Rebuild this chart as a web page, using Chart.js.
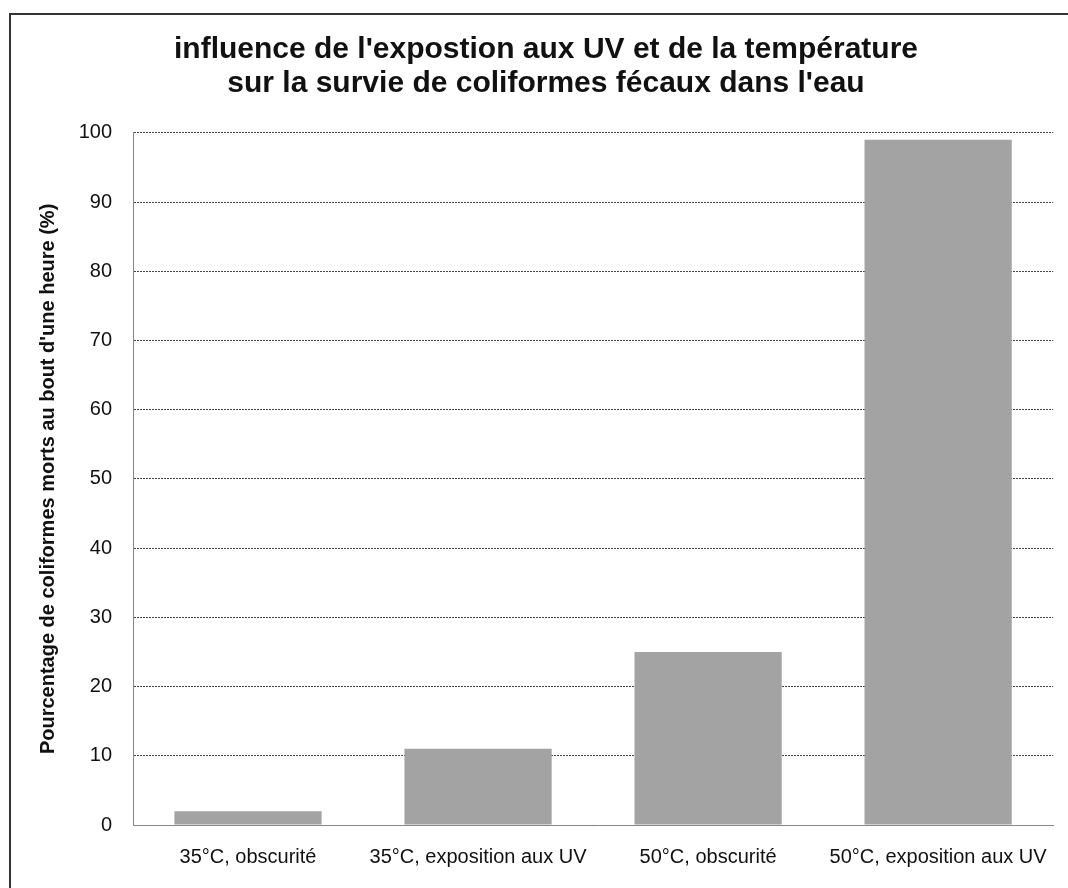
<!DOCTYPE html>
<html>
<head>
<meta charset="utf-8">
<script src="https://cdn.jsdelivr.net/npm/chart.js@4/dist/chart.umd.min.js"></script>
<style>
  html, body { margin: 0; padding: 0; background: #fff; }
  #wrap { width: 1068px; height: 888px; }
</style>
</head>
<body>
<div id="wrap"><canvas id="chart" width="1068" height="888"></canvas></div>
<script>
// données
var categories = ['35°C, obscurité', '35°C, exposition aux UV', '50°C, obscurité', '50°C, exposition aux UV'];
var mortalite = [2, 11, 25, 99];
var titleLines = ["influence de l'expostion aux UV et de la température", "sur la survie de coliformes fécaux dans l'eau"];
var yTitle = "Pourcentage de coliformes morts au bout d'une heure (%)";

// cadre extérieur (bord gauche et haut) + fond blanc
var cadre = {
    id: 'cadre',
    beforeDraw: function (chart) {
        var c = chart.ctx;
        c.save();
        c.fillStyle = '#fff';
        c.fillRect(0, 0, chart.width, chart.height);
        c.strokeStyle = '#333';
        c.lineWidth = 2;
        c.beginPath();
        c.moveTo(10, chart.height);
        c.lineTo(10, 14);
        c.lineTo(chart.width, 14);
        c.stroke();
        c.restore();
    }
};

var ctx = document.getElementById('chart').getContext('2d');
new Chart(ctx, {
    type: 'bar',
    data: {
        labels: categories,
        datasets: [{
            data: mortalite,
            backgroundColor: '#a3a3a3',
            borderWidth: 0,
            barPercentage: 0.64,
            categoryPercentage: 1
        }]
    },
    plugins: [cadre],
    options: {
        responsive: false,
        animation: false,
        layout: { padding: { left: 35, right: 11, top: 0, bottom: 0 } },
        plugins: {
            legend: { display: false },
            tooltip: { enabled: false },
            title: {
                display: true,
                text: titleLines,
                color: '#111',
                font: { family: 'Liberation Sans, Arial', size: 30, weight: 'bold', lineHeight: 1.13 },
                padding: { top: 33, bottom: 32 }
            }
        },
        scales: {
            x: {
                afterFit: function (s) { s.height = 63; },
                grid: { display: false, drawTicks: false },
                border: { display: true, color: '#888', dash: [2, 1] },
                ticks: {
                    color: '#111',
                    padding: 20,
                    maxRotation: 0,
                    font: { family: 'Liberation Sans, Arial', size: 20 }
                }
            },
            y: {
                min: 0,
                max: 100,
                afterFit: function (s) { s.width = 98; },
                grid: { color: '#444', drawTicks: false },
                border: { display: true, color: '#888', dash: [2, 1] },
                ticks: {
                    stepSize: 10,
                    color: '#111',
                    padding: 21,
                    font: { family: 'Liberation Sans, Arial', size: 20 }
                },
                title: {
                    display: true,
                    text: yTitle,
                    color: '#111',
                    padding: { top: 1, bottom: 0 },
                    font: { family: 'Liberation Sans, Arial', size: 20, weight: 'bold', lineHeight: 1.2 }
                }
            }
        }
    }
});
</script>
</body>
</html>
